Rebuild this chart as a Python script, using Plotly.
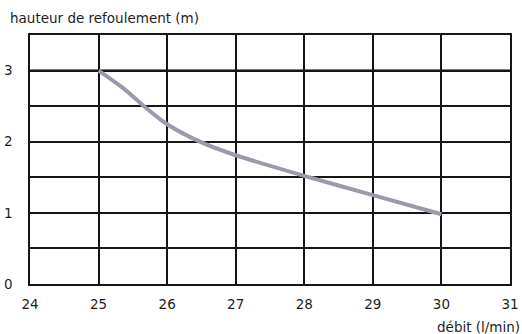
import plotly.graph_objects as go

# data
flow_lpm = [25.0, 25.35, 25.65, 26.0, 26.5, 27.0, 28.0, 29.0, 30.0]
head_m = [3.0, 2.76, 2.51, 2.245, 1.99, 1.81, 1.52, 1.25, 0.98]

x_ticks = [24, 25, 26, 27, 28, 29, 30, 31]
y_ticks = [0, 0.5, 1, 1.5, 2, 2.5, 3, 3.5]
y_labels = ["0", "", "1", "", "2", "", "3", ""]
ref_head = 3

x_title = "débit (l/min)"
y_title = "hauteur de refoulement (m)"

FONT = "DejaVu Sans"
TXT = "#1e1e1e"
FS = 13.5

fig = go.Figure()
fig.add_trace(go.Scatter(
    x=flow_lpm, y=head_m, mode="lines",
    line=dict(color="#9c99aa", width=4, shape="spline", smoothing=0.9),
    hoverinfo="skip", showlegend=False,
))

fig.add_hline(y=ref_head, line=dict(color="black", width=2.2), layer="below")

fig.update_layout(
    width=522, height=334,
    margin=dict(l=30, r=11.5, t=35, b=50.3, autoexpand=False),
    paper_bgcolor="white", plot_bgcolor="white",
    font=dict(family=FONT, size=FS, color=TXT),
    showlegend=False,
    xaxis=dict(
        range=[24, 31], tickvals=x_ticks, ticktext=[str(v) for v in x_ticks],
        showgrid=True, gridcolor="#151515", gridwidth=1.5,
        showline=True, linecolor="#151515", linewidth=1.5, mirror=True,
        zeroline=False, ticks="", ticklabelstandoff=7, automargin=False,
        tickfont=dict(family=FONT, size=FS, color=TXT),
    ),
    yaxis=dict(
        range=[0, 3.5], tickvals=y_ticks, ticktext=y_labels,
        showgrid=True, gridcolor="#151515", gridwidth=1.5,
        showline=True, linecolor="#151515", linewidth=1.5, mirror=True,
        zeroline=False, ticks="", ticklabelstandoff=13, automargin=False,
        tickfont=dict(family=FONT, size=FS, color=TXT),
    ),
    annotations=[
        dict(text=y_title, xref="paper", yref="paper", x=-0.0417, y=1.0,
             xanchor="left", yanchor="bottom", xshift=-2, yshift=7, showarrow=False,
             font=dict(family=FONT, size=FS, color=TXT)),
        dict(text=x_title, xref="paper", yref="paper", x=1.0, y=0,
             xanchor="right", yanchor="top", xshift=12, yshift=-33, showarrow=False,
             font=dict(family=FONT, size=FS, color=TXT)),
    ],
)

fig.write_html(
    "out.html",
    config={"displayModeBar": False},
    post_script="document.body.style.margin='0';document.body.style.overflow='hidden';",
)
